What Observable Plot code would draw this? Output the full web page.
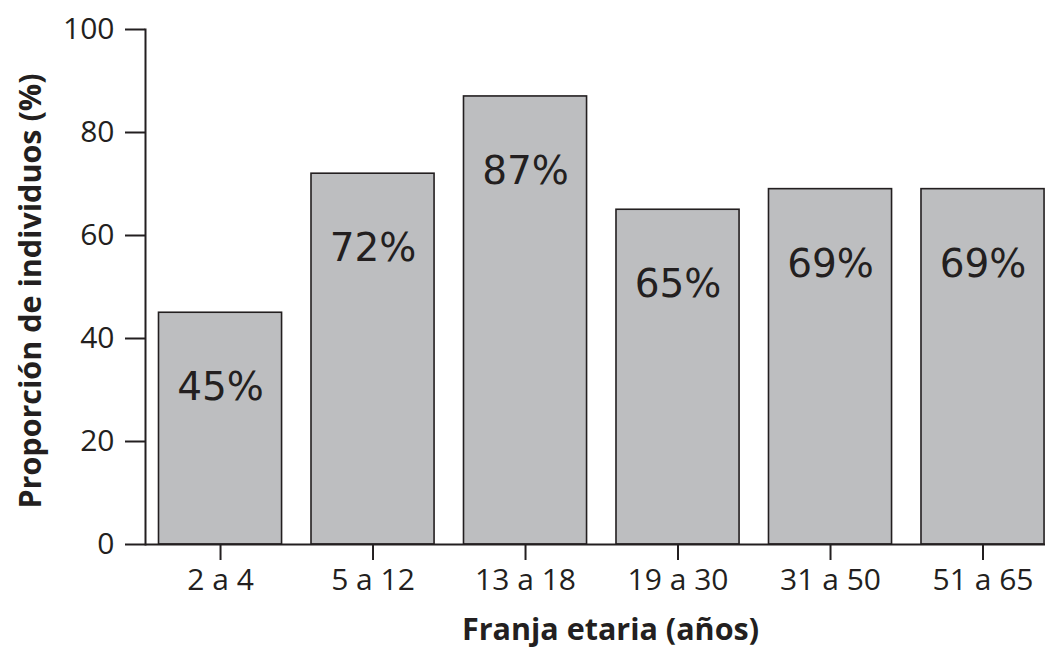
<!DOCTYPE html>
<html>
<head>
<meta charset="utf-8">
<script src="https://cdn.jsdelivr.net/npm/d3@7"></script>
<script src="https://cdn.jsdelivr.net/npm/@observablehq/plot@0.6"></script>
<style>
  html, body { margin: 0; padding: 0; background: #fff; }
</style>
</head>
<body>
<div id="chart"></div>
<script>
const categories = ["2 a 4", "5 a 12", "13 a 18", "19 a 30", "31 a 50", "51 a 65"];
const values = [45, 72, 87, 65, 69, 69];
const yTicks = [0, 20, 40, 60, 80, 100];
const yTitle = "Proporción de individuos (%)";
const xTitle = "Franja etaria (años)";

const data = categories.map((c, i) => ({cat: c, value: values[i]}));
const ink = "#231f20";

const chart = Plot.plot({
  width: 1045,
  height: 649,
  marginTop: 29,
  marginBottom: 105,
  marginLeft: 145,
  marginRight: 0,
  style: {fontFamily: "'Open Sans', sans-serif", fontSize: "30px", color: ink, background: "#fff"},
  x: {domain: categories, range: [143.25, 1059.3], paddingInner: 0.193, paddingOuter: 0.1, round: false, label: null},
  y: {domain: [0, 100], label: null},
  marks: [
    Plot.barY(data, {x: "cat", y: "value", fill: "#bdbec0", stroke: ink, strokeWidth: 1.6}),
    Plot.text(data, {x: "cat", y: "value", text: d => d.value + "%", dy: 75, lineAnchor: "middle",
      fontFamily: "'DejaVu Sans', sans-serif", fontSize: 39, fill: ink}),
    Plot.frame({anchor: "left", stroke: ink, strokeWidth: 2}),
    Plot.ruleY([0], {stroke: ink, strokeWidth: 2}),
    Plot.axisY({ticks: yTicks, tickSize: 20, tickPadding: 11, label: null, stroke: ink, strokeWidth: 2, fill: ink, fontSize: 30}),
    Plot.axisX({tickSize: 16, tickPadding: 8, label: null, stroke: ink, strokeWidth: 2, fill: ink, fontSize: 30}),
    Plot.text([yTitle], {frameAnchor: "left", textAnchor: "middle", lineAnchor: "middle", rotate: -90, dx: -114, dy: 4,
      fontWeight: "bold", fontSize: 30.5, fill: ink}),
    Plot.text([xTitle], {frameAnchor: "bottom", textAnchor: "middle", lineAnchor: "middle", dx: 15, dy: 86,
      fontWeight: "bold", fontSize: 30.5, fill: ink})
  ]
});
document.getElementById("chart").appendChild(chart);
</script>
</body>
</html>
